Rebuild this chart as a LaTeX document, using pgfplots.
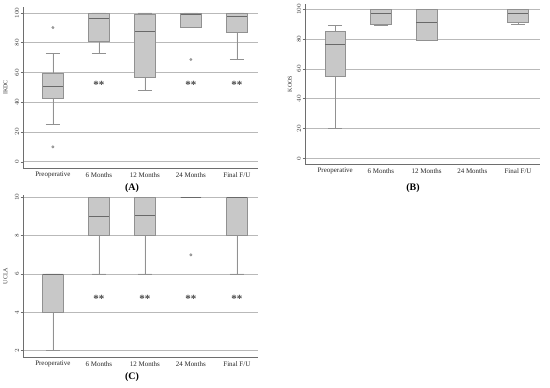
\documentclass[border=0pt]{standalone}
\usepackage{pgfplots}
\pgfplotsset{compat=1.18}
\usepgfplotslibrary{statistics}
\usepackage{fontspec}
\setmainfont{Liberation Serif}
\definecolor{boxfill}{RGB}{200,200,200}
\definecolor{boxline}{RGB}{145,145,145}
\definecolor{medline}{RGB}{105,105,105}
\definecolor{gridc}{RGB}{185,185,185}
\definecolor{axc}{RGB}{110,110,110}
\definecolor{starc}{RGB}{70,70,70}
\tikzset{starlbl/.style={font=\fontsize{11}{12}\selectfont\bfseries, text=starc}}
\pgfplotsset{
  panel/.style={
    scale only axis,
    width=235bp,
    axis x line*=bottom,
    axis y line*=left,
    axis line style={axc, line width=0.6pt},
    xmin=-0.65, xmax=4.46,
    xtick={0,1,2,3,4},
    xticklabels={Preoperative,6 Months,12 Months,24 Months,Final F/U},
    major x tick style={draw=none},
    ytick style={axc, line width=0.5pt},
    tick align=outside,
    major tick length=2.5bp,
    ymajorgrids,
    grid style={gridc, line width=0.6pt},
    yticklabel style={rotate=90, anchor=south, font=\fontsize{6}{7}\selectfont, inner sep=1.5pt, text=black!80},
    xticklabel style={font=\fontsize{7}{8}\selectfont, inner sep=1.5pt, text=black!85},
    ylabel style={font=\fontsize{6}{7}\selectfont, text=black!80, anchor=center, rotate=0},
    boxplot/draw direction=y,
    boxplot/box extend=0.45,
    boxplot/whisker extend=0.3,
    clip=false,
  },
  bx/.style={solid, draw=boxline, fill=boxfill, line width=0.7pt,
    mark=*, mark size=1.1pt, mark options={draw=boxline, fill=boxfill},
    boxplot/every median/.style={draw=medline, line width=0.8pt}},
}
\begin{document}
\begin{tikzpicture}[x=1bp,y=1bp]
\useasboundingbox (0,0) rectangle (550,387);
% ---------------- Panel A ----------------
\begin{axis}[panel, at={(23bp,219bp)}, anchor=south west, height=161bp,
  ymin=-4.2, ymax=104, ytick={0,20,40,60,80,100}, ylabel={IKDC},
  ylabel style={at={(axis description cs:-0.075,0.5)}}]
\addplot+[bx, boxplot prepared={draw position=0, lower whisker=25.3, lower quartile=42.3, median=50.8, upper quartile=59.7, upper whisker=72.7}] coordinates {(0,90.2) (0,10)};
\addplot+[bx, boxplot prepared={draw position=1, lower whisker=72.7, lower quartile=81.2, median=96.2, upper quartile=100, upper whisker=100}] coordinates {};
\addplot+[bx, boxplot prepared={draw position=2, lower whisker=47.9, lower quartile=56.4, median=87.5, upper quartile=99.1, upper whisker=100}] coordinates {};
\addplot+[bx, boxplot prepared={draw position=3, lower whisker=90.2, lower quartile=90.2, median=98.9, upper quartile=100, upper whisker=100}] coordinates {(3,68.7)};
\addplot+[bx, boxplot prepared={draw position=4, lower whisker=68.9, lower quartile=87.2, median=97.8, upper quartile=100, upper whisker=100}] coordinates {};
\node[starlbl] at (axis cs:1,51.5) {**};
\node[starlbl] at (axis cs:3,51.5) {**};
\node[starlbl] at (axis cs:4,51.5) {**};
\end{axis}
\node[font=\fontsize{10}{12}\selectfont\bfseries] at (132,199) {(A)};
% ---------------- Panel B ----------------
\begin{axis}[panel, at={(305bp,223bp)}, anchor=south west, height=160bp,
  xmin=-0.66, xmax=4.48,
  ymin=-3.8, ymax=103.6, ytick={0,20,40,60,80,100}, ylabel={KOOS},
  ylabel style={at={(axis description cs:-0.064,0.5)}}]
\addplot+[bx, boxplot prepared={draw position=0, lower whisker=20.1, lower quartile=55, median=76.5, upper quartile=85.5, upper whisker=89.3}] coordinates {};
\addplot+[bx, boxplot prepared={draw position=1, lower whisker=89.3, lower quartile=90.2, median=97.1, upper quartile=100, upper whisker=100}] coordinates {};
\addplot+[bx, boxplot prepared={draw position=2, lower whisker=79, lower quartile=79, median=91.1, upper quartile=100, upper whisker=100}] coordinates {};
\addplot+[bx, boxplot prepared={draw position=4, lower whisker=89.9, lower quartile=91.1, median=97.3, upper quartile=100, upper whisker=100}] coordinates {};
\end{axis}
\node[font=\fontsize{10}{12}\selectfont\bfseries] at (413,199) {(B)};
% ---------------- Panel C ----------------
\begin{axis}[panel, at={(23bp,30bp)}, anchor=south west, height=162bp,
  ymin=1.67, ymax=10.12, ytick={2,4,6,8,10}, ylabel={UCLA},
  ylabel style={at={(axis description cs:-0.075,0.5)}}]
\addplot+[bx, boxplot prepared={draw position=0, lower whisker=2, lower quartile=4, median=6, upper quartile=6, upper whisker=6}] coordinates {};
\addplot+[bx, boxplot prepared={draw position=1, lower whisker=6, lower quartile=8, median=9, upper quartile=10, upper whisker=10}] coordinates {};
\addplot+[bx, boxplot prepared={draw position=2, lower whisker=6, lower quartile=8, median=9.04, upper quartile=10, upper whisker=10}] coordinates {};
\addplot+[bx, boxplot prepared={draw position=3, lower whisker=10, lower quartile=10, median=10, upper quartile=10, upper whisker=10}] coordinates {(3,7)};
\addplot+[bx, boxplot prepared={draw position=4, lower whisker=6, lower quartile=8, median=10, upper quartile=10, upper whisker=10}] coordinates {};
\node[starlbl] at (axis cs:1,4.7) {**};
\node[starlbl] at (axis cs:2,4.7) {**};
\node[starlbl] at (axis cs:3,4.7) {**};
\node[starlbl] at (axis cs:4,4.7) {**};
\end{axis}
\node[font=\fontsize{10}{12}\selectfont\bfseries] at (132,10) {(C)};
\end{tikzpicture}
\end{document}
